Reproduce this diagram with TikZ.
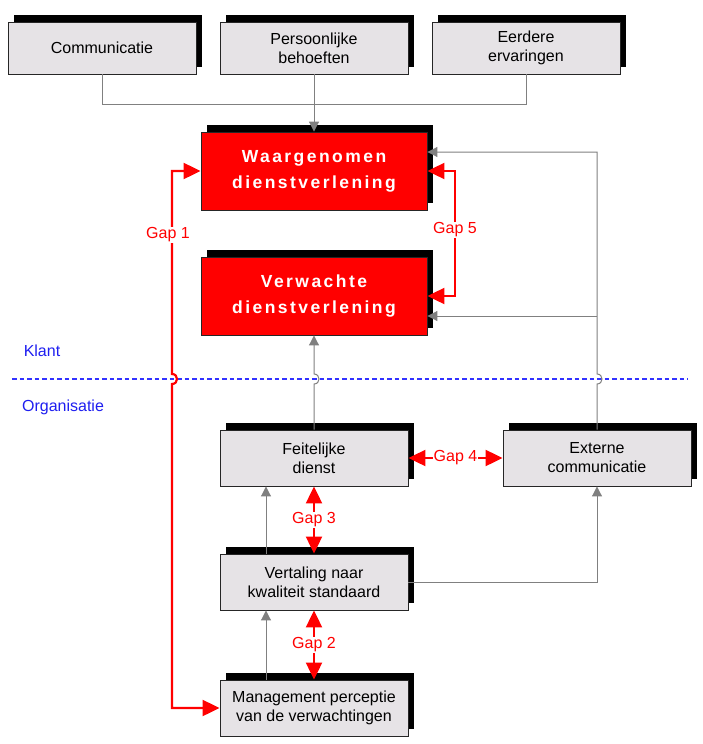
\documentclass[tikz,border=0pt]{standalone}
\usepackage{fontspec}
\setmainfont{Liberation Sans}
\newfontfamily\widebold[LetterSpace=14]{Liberation Sans}
\usetikzlibrary{arrows.meta,shadows}
\definecolor{boxgray}{RGB}{230,227,230}
\definecolor{linegray}{RGB}{128,128,128}
\definecolor{sideblue}{RGB}{30,30,240}
\definecolor{dashblue}{RGB}{50,50,255}

\begin{document}
\begin{tikzpicture}[x=1pt,y=-1pt,
    box/.style={draw=black!85, line width=0.9pt, fill=boxgray, minimum width=188pt, minimum height=56pt,
      align=center, font=\fontsize{16}{19}\selectfont,
      drop shadow={shadow xshift=6pt, shadow yshift=7pt, fill=black, opacity=1}},
    redbox/.style={box, fill=red, text=white, minimum width=226pt, minimum height=78pt,
      font=\fontsize{17.5}{26}\selectfont\widebold\bfseries},
    conn/.style={draw=linegray, line width=1pt, -{Triangle[length=10pt,width=10pt]}},
    plain/.style={draw=linegray, line width=1pt},
    gap/.style={draw=red, line width=2.2pt, {Triangle[length=17pt,width=16pt]}-{Triangle[length=17pt,width=16pt]}},
    gaplabel/.style={fill=white, text=red, inner sep=1pt, font=\fontsize{16}{19}\selectfont},
    side/.style={text=sideblue, font=\fontsize{16}{19}\selectfont}
  ]
  \useasboundingbox (0,0) rectangle (702,744);

  \node[box, minimum height=52pt] (comm) at (102,48) {Communicatie};
  \node[box, minimum height=52pt] (pers) at (314,48) {Persoonlijke\\behoeften};
  \node[box, minimum height=52pt] (eerd) at (526,48) {Eerdere\\ervaringen};

  \node[redbox] (wg) at (314,171) {Waargenomen\\dienstverlening};
  \node[redbox] (vw) at (314,296) {Verwachte\\dienstverlening};

  \node[side] (klant) at (42,351) {Klant};
  \node[side] (org) at (63,407) {Organisatie};
  \draw[dashblue, line width=1.2pt, dash pattern=on 4.5pt off 3pt] (12,379) -- (688,379);

  \node[box] (fd) at (314,458) {Feitelijke\\dienst};
  \node[box] (ext) at (597,458) {Externe\\communicatie};
  \node[box] (vt) at (314,582) {Vertaling naar\\kwaliteit standaard};
  \node[box] (mp) at (314,708) {Management perceptie\\van de verwachtingen};

  \draw[plain] (comm.south) |- (eerd.south |- 0,104) -- (eerd.south);
  \draw[conn] (pers.south) -- (wg.north);

  \draw[conn] (ext.north) -- (597,384) .. controls (603.7,384) and (603.7,374) .. (597,374)
    -- (597,152) -- (wg.east |- 0,152);
  \draw[conn] (597,316) -- (vw.east |- 0,316);
  \draw[conn] (fd.north) -- (314,384) .. controls (320.7,384) and (320.7,374) .. (314,374) -- (vw.south);
  \draw[conn] ([xshift=-48pt]vt.north) -- ([xshift=-48pt]fd.south);
  \draw[conn] ([xshift=-48pt]mp.north) -- ([xshift=-48pt]vt.south);
  \draw[conn] (vt.east) -| (ext.south);

  \draw[gap] (mp.west) -- (172,0 |- mp.west) -- (172,384) .. controls (178.7,384) and (178.7,374) .. (172,374)
    -- (172,0 |- wg.west) -- (wg.west);
  \node[gaplabel] (gap1) at (168,235) {Gap 1};
  \draw[gap] (wg.east) -- (455,0 |- wg.east) -- (455,0 |- vw.east) -- (vw.east);
  \node[gaplabel] (gap5) at (455,230) {Gap 5};
  \draw[gap] (fd.east) -- (ext.west) node[midway, gaplabel] (gap4) {Gap 4};
  \draw[gap] (fd.south) -- (vt.north) node[midway, gaplabel] (gap3) {Gap 3};
  \draw[gap] (vt.south) -- (mp.north) node[midway, gaplabel] (gap2) {Gap 2};
\end{tikzpicture}
\end{document}
